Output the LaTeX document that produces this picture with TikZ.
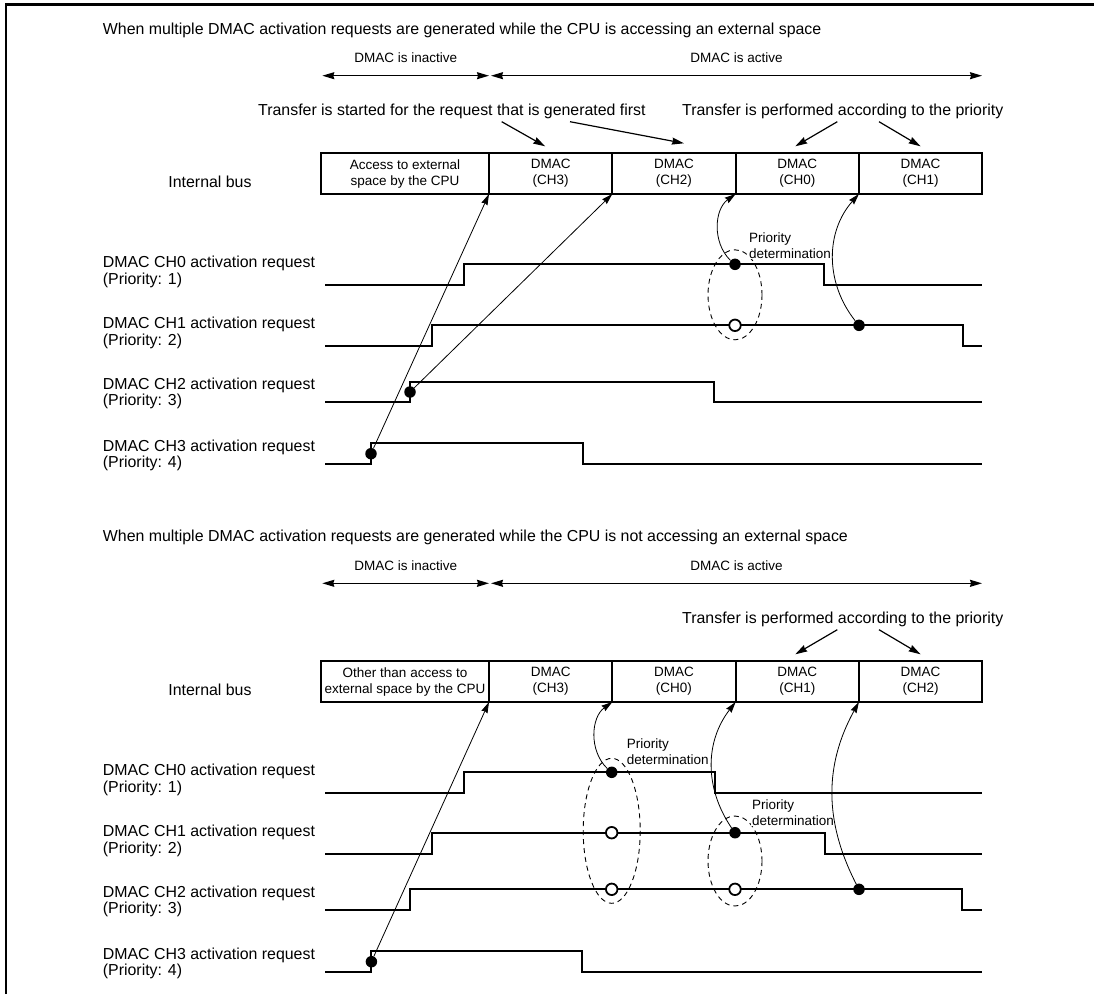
\documentclass[tikz,border=0pt]{standalone}
\usepackage{fontspec}
\setmainfont{Liberation Sans}
\usepackage{tikz}
\usetikzlibrary{calc,positioning,arrows.meta}
\newcommand{\diagbig}{\fontsize{15.9pt}{16.7pt}\selectfont}
\newcommand{\diagsmall}{\fontsize{13.5pt}{16pt}\selectfont}
\tikzset{
    frameline/.style={line width=2.2pt},
    headline/.style={font=\diagbig, anchor=base west, inner sep=0pt},
    rowlbl/.style={font=\diagbig, align=left, anchor=base west, inner sep=0pt},
    buslbl/.style={font=\diagbig, anchor=base, inner sep=0pt},
    remark/.style={font=\diagbig, anchor=base west, inner sep=0pt},
    span/.style={{Stealth[length=12pt,width=7pt,inset=1pt]}-{Stealth[length=12pt,width=7pt,inset=1pt]},
                 line width=1.3pt},
    spanlbl/.style={font=\diagsmall, inner sep=0pt},
    ptr/.style={-{Stealth[length=12pt,width=7pt,inset=1pt]}, line width=1.2pt},
    slot/.style={draw, line width=2pt, minimum width=123.3pt, minimum height=40.7pt,
                 inner sep=0pt, outer sep=0pt, anchor=north west,
                 font=\diagsmall, align=center},
    sig/.style={line width=2pt},
    req/.style={-{Stealth[length=11pt,width=6.5pt,inset=1pt]}, line width=0.8pt},
    hit/.style={circle, fill=black, minimum size=11.5pt, inner sep=0pt},
    wait/.style={circle, draw, fill=white, line width=1.8pt, minimum size=11.5pt, inner sep=0pt},
    ring/.style={dash pattern=on 5pt off 4pt, line width=0.9pt},
    pdlbl/.style={font=\diagsmall, align=left, fill=white, inner sep=1pt, anchor=base west},
}

\begin{document}
\begin{tikzpicture}[x=1pt,y=-1pt,>=Stealth]
\useasboundingbox (0,0) rectangle (1094,994);

% outer frame (top and left edges only)
\draw[frameline] (6,994) -- (6,4.5) -- (1094,4.5);

% ---------------- CPU ACCESSING EXTERNAL SPACE ----------------
\begin{scope}[shift={(0,0)}]
  \node[headline] (aTitle) at (102.7,34)
       {When multiple DMAC activation requests are generated while the CPU is accessing an external space};

  % inactive / active spans
  \coordinate (aOffL) at (322.3,75.7);
  \coordinate (aOffR) at (489,75.7);
  \coordinate (aOnL)  at (491,75.7);
  \coordinate (aOnR)  at (982,75.7);
  \draw[span] (aOffL) -- (aOffR) node[spanlbl, midway, above=12pt] {DMAC is inactive};
  \draw[span] (aOnL) -- (aOnR) node[spanlbl, midway, above=12pt] {DMAC is active};

  \node[remark] (aFirst) at (258,115) {Transfer is started for the request that is generated first};
  \node[remark] (aPrio)  at (682,115) {Transfer is performed according to the priority};

  % internal bus
  \node[buslbl] (aBusLbl) at (210,187.3) {Internal bus};
  \node[slot, minimum width=168pt] (aCpu) at (321,153.3) {Access to external\\space by the CPU};
  \node[slot, right=0pt of aCpu] (aS1) {DMAC\\(CH3)};
  \node[slot, right=0pt of aS1]  (aS2) {DMAC\\(CH2)};
  \node[slot, right=0pt of aS2]  (aS3) {DMAC\\(CH0)};
  \node[slot, right=0pt of aS3]  (aS4) {DMAC\\(CH1)};

  % pointers from the two remarks
  \coordinate (aFirstA) at (501.7,121.7);
  \coordinate (aFirstB) at (570,121.7);
  \coordinate (aPrioA)  at (837.3,121.7);
  \coordinate (aPrioB)  at (879,121.7);
  \draw[ptr] (aFirstA) -- ([xshift=-5.5pt,yshift=7pt]aS1.north);
  \draw[ptr] (aFirstB) -- ([xshift=10pt,yshift=10pt]aS2.north);
  \draw[ptr] (aPrioA)  -- ([xshift=-2pt,yshift=7pt]aS3.north);
  \draw[ptr] (aPrioB)  -- ([xshift=0pt,yshift=7pt]aS4.north);

  % request lines (label anchored on its last line)
  \node[rowlbl] (aL0) at (102.7,284.4) {DMAC CH0 activation request\\(Priority: 1)};
  \node[rowlbl] (aL1) at (102.7,345)   {DMAC CH1 activation request\\(Priority: 2)};
  \node[rowlbl] (aL2) at (102.7,405.7) {DMAC CH2 activation request\\(Priority: 3)};
  \node[rowlbl] (aL3) at (102.7,467.7) {DMAC CH3 activation request\\(Priority: 4)};
  \draw[sig] (325,284.5) -| (463.5,264.3) -| (823.5,284.5) -- (982,284.5);
  \draw[sig] (325,346)   -| (431.7,325.3) -| (962.7,346)   -- (982,346);
  \draw[sig] (325,402.3) -| (410,381.7)   -| (714,402.3)   -- (982,402.3);
  \draw[sig] (325,464)   -| (371,443.3)   -| (582.7,464)   -- (982,464);

  % request points
  \node[hit]  (aReq3)  at (371,453.7) {};
  \node[hit]  (aReq2)  at (410,392)   {};
  \node[hit]  (aHit0)  at (735,264.3) {};
  \node[wait] (aWait1) at (735,325.3) {};
  \node[hit]  (aHit1)  at (859,325.3) {};

  % priority determination
  \draw[ring] ($(aHit0)!0.5!(aWait1)$) ellipse [x radius=27, y radius=45];
  \node[pdlbl] (aPd) at ($(aHit0)+(13,-6)$) {Priority\\determination};

  \draw[req] (aReq3) -- (aS1.south west);
  \draw[req] (aReq2) -- (aS2.south west);
  \draw[req] (aHit0) to[bend left=50] (aS3.south west);
  \draw[req] (aHit1) to[bend left=40] (aS4.south west);
\end{scope}

% ---------------- CPU NOT ACCESSING EXTERNAL SPACE ----------------
\begin{scope}[shift={(0,508)}]
  \node[headline] (nTitle) at (102.7,33)
       {When multiple DMAC activation requests are generated while the CPU is not accessing an external space};

  \coordinate (nOffL) at (322.3,75.3);
  \coordinate (nOffR) at (489,75.3);
  \coordinate (nOnL)  at (491,75.3);
  \coordinate (nOnR)  at (982,75.3);
  \draw[span] (nOffL) -- (nOffR) node[spanlbl, midway, above=12pt] {DMAC is inactive};
  \draw[span] (nOnL) -- (nOnR) node[spanlbl, midway, above=12pt] {DMAC is active};

  \node[remark] (nPrio) at (682,115) {Transfer is performed according to the priority};

  % internal bus
  \node[buslbl] (nBusLbl) at (210,187.3) {Internal bus};
  \node[slot, minimum width=168pt] (nCpu) at (321,153.3) {Other than access to\\external space by the CPU};
  \node[slot, right=0pt of nCpu] (nS1) {DMAC\\(CH3)};
  \node[slot, right=0pt of nS1]  (nS2) {DMAC\\(CH0)};
  \node[slot, right=0pt of nS2]  (nS3) {DMAC\\(CH1)};
  \node[slot, right=0pt of nS3]  (nS4) {DMAC\\(CH2)};

  \coordinate (nPrioA) at (837.3,121.7);
  \coordinate (nPrioB) at (879,121.7);
  \draw[ptr] (nPrioA) -- ([xshift=-2pt,yshift=7pt]nS3.north);
  \draw[ptr] (nPrioB) -- ([xshift=0pt,yshift=7pt]nS4.north);

  % request lines (label anchored on its last line)
  \node[rowlbl] (nL0) at (102.7,284.4) {DMAC CH0 activation request\\(Priority: 1)};
  \node[rowlbl] (nL1) at (102.7,345)   {DMAC CH1 activation request\\(Priority: 2)};
  \node[rowlbl] (nL2) at (102.7,405.7) {DMAC CH2 activation request\\(Priority: 3)};
  \node[rowlbl] (nL3) at (102.7,467.7) {DMAC CH3 activation request\\(Priority: 4)};
  \draw[sig] (325,284.5) -| (463.8,264.3) -| (715,284.5)   -- (982,284.5);
  \draw[sig] (325,346)   -| (431.7,324.7) -| (824.5,346)   -- (982,346);
  \draw[sig] (325,402.3) -| (410.2,381.3) -| (962,402.3)   -- (982,402.3);
  \draw[sig] (325,464)   -| (371.4,443.3) -| (582,464)     -- (982,464);

  % request points
  \node[hit]  (nReq3)   at (371.4,453.7) {};
  \node[hit]  (nHit0)   at (611.7,264.3) {};
  \node[wait] (nWait1)  at (611.7,324.7) {};
  \node[wait] (nWait2)  at (611.7,381.3) {};
  \node[hit]  (nHit1)   at (735,324.7)   {};
  \node[wait] (nWait2b) at (735,381.3)   {};
  \node[hit]  (nHit2)   at (859,381.3)   {};

  % priority determination (twice)
  \draw[ring] ($(nHit0)!0.5!(nWait2)$) ellipse [x radius=28.5, y radius=72.5];
  \draw[ring] ($(nHit1)!0.5!(nWait2b)$) ellipse [x radius=27, y radius=45];
  \node[pdlbl] (nPd0) at ($(nHit0)+(14,-7.5)$) {Priority\\determination};
  \node[pdlbl] (nPd1) at ($(nHit1)+(16,-7.5)$) {Priority\\determination};

  \draw[req] (nReq3) -- (nS1.south west);
  \draw[req] (nHit0) to[bend left=50] (nS2.south west);
  \draw[req] (nHit1) to[bend left=36] (nS3.south west);
  \draw[req] (nHit2) to[bend left=28] (nS4.south west);
\end{scope}

\end{tikzpicture}
\end{document}
